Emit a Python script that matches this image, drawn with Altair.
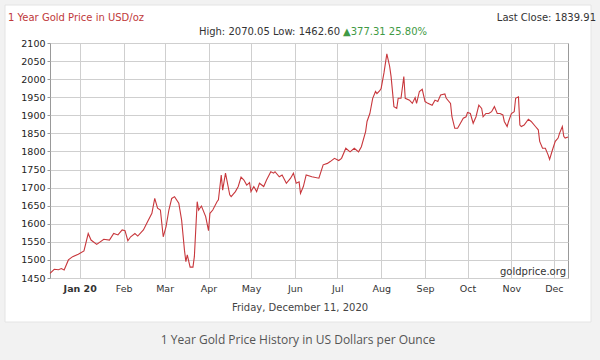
import altair as alt
import pandas as pd

# ---------------- data ----------------
dates = [
    "2019-12-11", "2019-12-14", "2019-12-17", "2019-12-19", "2019-12-21", "2019-12-24",
    "2019-12-27", "2019-12-31", "2020-01-04", "2020-01-07", "2020-01-09", "2020-01-13",
    "2020-01-18", "2020-01-22", "2020-01-25", "2020-01-28", "2020-01-31", "2020-02-02",
    "2020-02-04", "2020-02-06", "2020-02-09", "2020-02-11", "2020-02-15", "2020-02-18",
    "2020-02-21", "2020-02-23", "2020-02-25", "2020-02-27", "2020-02-29", "2020-03-02",
    "2020-03-04", "2020-03-06", "2020-03-08", "2020-03-11", "2020-03-13", "2020-03-15",
    "2020-03-16", "2020-03-17", "2020-03-19", "2020-03-21", "2020-03-22", "2020-03-24",
    "2020-03-25", "2020-03-27", "2020-03-30", "2020-04-01", "2020-04-02", "2020-04-04",
    "2020-04-07", "2020-04-08", "2020-04-10", "2020-04-11", "2020-04-13", "2020-04-16",
    "2020-04-17", "2020-04-20", "2020-04-22", "2020-04-24", "2020-04-26", "2020-04-28",
    "2020-04-30", "2020-05-01", "2020-05-03", "2020-05-05", "2020-05-07", "2020-05-10",
    "2020-05-12", "2020-05-15", "2020-05-17", "2020-05-18", "2020-05-21", "2020-05-23",
    "2020-05-26", "2020-05-29", "2020-05-31", "2020-06-02", "2020-06-04", "2020-06-05",
    "2020-06-07", "2020-06-09", "2020-06-13", "2020-06-18", "2020-06-21", "2020-06-24",
    "2020-06-26", "2020-06-29", "2020-07-02", "2020-07-04", "2020-07-07", "2020-07-10",
    "2020-07-13", "2020-07-16", "2020-07-18", "2020-07-21", "2020-07-22", "2020-07-24",
    "2020-07-26", "2020-07-28", "2020-07-29", "2020-07-31", "2020-08-01", "2020-08-03",
    "2020-08-05", "2020-08-07", "2020-08-08", "2020-08-10", "2020-08-12", "2020-08-13",
    "2020-08-15", "2020-08-17", "2020-08-18", "2020-08-21", "2020-08-23", "2020-08-25",
    "2020-08-26", "2020-08-28", "2020-08-30", "2020-09-01", "2020-09-03", "2020-09-06",
    "2020-09-08", "2020-09-10", "2020-09-12", "2020-09-15", "2020-09-16", "2020-09-19",
    "2020-09-20", "2020-09-22", "2020-09-24", "2020-09-26", "2020-09-28", "2020-09-30",
    "2020-10-01", "2020-10-03", "2020-10-05", "2020-10-07", "2020-10-09", "2020-10-11",
    "2020-10-12", "2020-10-14", "2020-10-16", "2020-10-18", "2020-10-20", "2020-10-22",
    "2020-10-24", "2020-10-26", "2020-10-27", "2020-10-29", "2020-10-30", "2020-11-01",
    "2020-11-03", "2020-11-04", "2020-11-06", "2020-11-07", "2020-11-08", "2020-11-10",
    "2020-11-13", "2020-11-15", "2020-11-18", "2020-11-20", "2020-11-21", "2020-11-23",
    "2020-11-25", "2020-11-27", "2020-11-28", "2020-11-30", "2020-12-02", "2020-12-04",
    "2020-12-05", "2020-12-07", "2020-12-08", "2020-12-09", "2020-12-11",
]
prices = [
    1463, 1474, 1473, 1476, 1472, 1500,
    1509, 1516, 1525, 1573, 1555, 1543,
    1557, 1555, 1573, 1569, 1583, 1581,
    1553, 1564, 1573, 1566, 1583, 1606,
    1629, 1670, 1643, 1638, 1564, 1592,
    1638, 1670, 1675, 1657, 1610, 1527,
    1495, 1514, 1480, 1480, 1509, 1661,
    1638, 1649, 1620, 1581, 1629, 1638,
    1661, 1666, 1735, 1693, 1740, 1680,
    1675, 1689, 1703, 1729, 1721, 1707,
    1714, 1689, 1703, 1689, 1712, 1703,
    1721, 1744, 1740, 1744, 1730, 1735,
    1712, 1726, 1740, 1712, 1716, 1684,
    1703, 1735, 1730, 1726, 1763, 1767,
    1772, 1781, 1775, 1781, 1809, 1799,
    1809, 1799, 1813, 1855, 1883, 1905,
    1947, 1966, 1960, 1968, 1975, 2018,
    2070, 2035, 2007, 1924, 1919, 1947,
    1947, 2007, 1947, 1942, 1933, 1949,
    1933, 1966, 1972, 1938, 1933, 1928,
    1942, 1938, 1956, 1959, 1947, 1933,
    1896, 1864, 1864, 1878, 1892, 1896,
    1908, 1905, 1878, 1896, 1928, 1919,
    1896, 1905, 1905, 1910, 1924, 1905,
    1905, 1901, 1883, 1869, 1883, 1905,
    1910, 1947, 1951, 1873, 1869, 1873,
    1889, 1883, 1869, 1860, 1828, 1809,
    1809, 1790, 1778, 1804, 1828, 1837,
    1850, 1869, 1842, 1837, 1840,
]
y_ticks = [1450, 1500, 1550, 1600, 1650, 1700, 1750, 1800, 1850, 1900, 1950, 2000, 2050, 2100]

title_left = "1 Year Gold Price in USD/oz"
title_right = "Last Close: 1839.91"
stats_text = "High: 2070.05 Low: 1462.60"
change_text = "\u25b2377.31 25.80%"
source_text = "goldprice.org"
date_text = "Friday, December 11, 2020"
caption_text = "1 Year Gold Price History in US Dollars per Ounce"

df = pd.DataFrame({"date": dates, "price": prices})
one = pd.DataFrame({"k": [0]})

FONT = "DejaVu Sans"
W, H = 518, 235

x_enc = alt.X(
    "date:T",
    scale=alt.Scale(
        type="utc",
        domain=[alt.DateTime(year=2019, month=12, date=11, utc=True),
                alt.DateTime(year=2020, month=12, date=11, utc=True)],
    ),
    axis=alt.Axis(
        title=None,
        tickCount={"interval": "month", "step": 1},
        labelExpr="utcmonth(datum.value) == 0 ? 'Jan ' + utcFormat(datum.value, '%y') : utcFormat(datum.value, '%b')",
        labelFontWeight={"condition": {"test": "utcmonth(datum.value) == 0", "value": "bold"}, "value": "normal"},
        grid=True,
        gridColor="#cfcfcf",
        domain=False,
        ticks=False,
        labelPadding=5,
        labelFont=FONT,
        labelFontSize=9.5,
        labelColor="#333333",
    ),
)
y_enc = alt.Y(
    "price:Q",
    scale=alt.Scale(domain=[1450, 2100], nice=False, zero=False),
    axis=alt.Axis(
        title=None,
        values=y_ticks,
        format="d",
        grid=True,
        gridColor="#cfcfcf",
        domain=False,
        ticks=True,
        tickSize=3,
        tickColor="#999999",
        labelPadding=2,
        labelFont=FONT,
        labelFontSize=9.5,
        labelColor="#222222",
    ),
)

line = alt.Chart(df).mark_line(color="#c8373c", strokeWidth=1.1).encode(x=x_enc, y=y_enc)

GRAY = "#f2f2f2"
# grey frame around the white card (outside the plot area)
frame_bottom = alt.Chart(one).mark_rect(color=GRAY).encode(
    x=alt.value(-50), x2=alt.value(550), y=alt.value(279), y2=alt.value(317))
frame_top = alt.Chart(one).mark_rect(color=GRAY).encode(
    x=alt.value(-50), x2=alt.value(550), y=alt.value(-43), y2=alt.value(-38))
frame_left = alt.Chart(one).mark_rect(color=GRAY).encode(
    x=alt.value(-50), x2=alt.value(-45), y=alt.value(-43), y2=alt.value(317))
frame_right = alt.Chart(one).mark_rect(color=GRAY).encode(
    x=alt.value(541), x2=alt.value(550), y=alt.value(-43), y2=alt.value(317))
card_border = alt.Chart(one).mark_rect(fill=None, stroke="#e4e4e4", strokeWidth=1).encode(
    x=alt.value(-45), x2=alt.value(541), y=alt.value(-38), y2=alt.value(279))


def txt(text, x, y, align="left", color="#333333", size=9.5, font=FONT, weight="normal"):
    return alt.Chart(one).mark_text(
        text=text, align=align, baseline="alphabetic", color=color,
        fontSize=size, font=font, fontWeight=weight,
    ).encode(x=alt.value(x), y=alt.value(y))


texts = [
    txt(title_left, -42, -22, color="#c0393b", size=10),
    txt(title_right, 546, -22, align="right", color="#333333", size=10),
    txt(stats_text, 290, -8, align="right", color="#333333", size=10),
    txt(change_text, 293, -8, align="left", color="#3f9a45", size=10),
    txt(source_text, 516, 232, align="right", color="#333333", size=10),
    txt(date_text, 250, 268, align="center", color="#444444", size=10),
    txt(caption_text, 248, 301, align="center", color="#555555", size=12, font="Open Sans"),
]

chart = alt.layer(
    frame_bottom, frame_top, frame_left, frame_right, card_border, line, *texts
).properties(
    width=W,
    height=H,
    autosize=alt.AutoSizeParams(type="none"),
    padding={"left": 50, "top": 43, "right": 32, "bottom": 82},
).configure(
    background="#ffffff",
).configure_view(
    stroke="#999999",
    strokeWidth=1,
)

chart.save("out.html", embed_options={"renderer": "svg", "actions": False})
